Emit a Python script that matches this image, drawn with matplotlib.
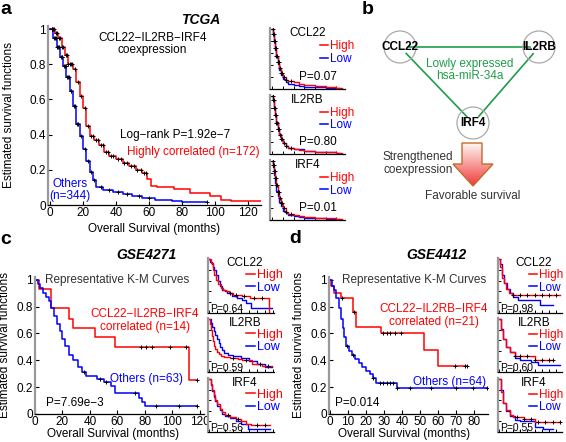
import numpy as np
import matplotlib
matplotlib.use('Agg')
import matplotlib.pyplot as plt
from matplotlib.patches import Circle, Polygon
from matplotlib.colors import LinearSegmentedColormap
from matplotlib.lines import Line2D

plt.rcParams['font.family'] = ['Liberation Sans', 'DejaVu Sans']

# ---- panel a (TCGA) ----
a_hi_t = [0, 3, 5, 7, 9, 11, 14, 16, 18, 20, 22, 24, 27, 30, 33, 36, 40, 44, 48, 52, 56, 59, 61, 65, 75, 85, 97, 104, 110]
a_hi_s = [1, .98, .95, .90, .85, .80, .77, .70, .62, .55, .45, .39, .37, .34, .30, .28, .26, .24, .22, .20, .18, .15, .11, .10, .09, .07, .05, .03, .02]
a_hi_end = 128
a_hi_cens = [1, 2, 2.5, 3.5, 4, 5.5, 6, 7.5, 8, 9.5, 10.5, 11, 12, 13, 13.5, 15, 17, 19, 21, 23, 25, 26, 28, 29,
             31, 32, 34, 35, 37, 38, 41, 43, 45, 47, 49, 51, 53, 55, 57, 58]
a_lo_t = [0, 2, 4, 6, 8, 10, 12, 14, 16, 18, 20, 22, 24, 26, 28, 32, 38, 44, 50, 56, 64, 74, 80]
a_lo_s = [1, .95, .90, .84, .79, .73, .65, .56, .46, .39, .32, .25, .19, .14, .10, .085, .075, .06, .05, .04, .03, .02, .015]
a_lo_end = 95
a_lo_cens = [1, 1.5, 2.5, 3, 3.5, 4.5, 5, 5.5, 6.5, 7, 7.5, 8.5, 9, 9.5, 10.5, 11, 11.5, 12.5, 13, 14.5, 15, 16.5,
             17, 19, 21, 23, 25, 27, 31, 36, 41, 47, 54, 60, 95]

genes = ['CCL22', 'IL2RB', 'IRF4']

sa_p = ['P=0.07', 'P=0.80', 'P=0.01']
sa_t = [0, 2, 4, 6, 8, 10, 13, 16, 20, 25, 30, 40, 50, 60, 80, 100, 120]
sa_hi = [[1, .92, .80, .68, .55, .45, .35, .27, .20, .15, .13, .11, .09, .07, .05, .03, .02],
         [1, .93, .80, .67, .54, .43, .33, .26, .19, .14, .11, .09, .07, .05, .04, .03, .02],
         [1, .94, .84, .72, .60, .48, .37, .29, .20, .14, .11, .09, .07, .05, .04, .03, .02]]
sa_lo = [[1, .92, .79, .66, .53, .42, .32, .24, .17, .12, .09, .07, .05, .04, .03, .015, .01],
         [1, .93, .81, .68, .55, .44, .34, .26, .19, .14, .11, .09, .08, .06, .04, .03, .02],
         [1, .90, .76, .63, .50, .40, .31, .23, .16, .12, .09, .07, .05, .04, .03, .02, .01]]
sa_cens = [1, 2, 3, 4, 5, 6, 7, 8, 9, 10, 11, 12, 14, 16, 18, 22, 26, 35]

# ---- panel c (GSE4271) ----
c_hi_t = [0, 3, 12, 25, 28, 44, 58, 112]
c_hi_s = [1, .93, .79, .71, .64, .57, .50, .25]
c_hi_end = 118
c_hi_cens = [77, 81, 85, 98, 110, 118]
c_lo_t = [0, 2, 4, 6, 8, 10, 12, 14, 16, 18, 20, 22, 25, 28, 31, 34, 37, 45, 50, 55, 58, 76, 78, 80]
c_lo_s = [1, .97, .94, .90, .87, .84, .79, .73, .67, .62, .56, .51, .44, .40, .35, .31, .28, .26, .24, .21, .16, .12, .09, .06]
c_lo_end = 118
c_lo_cens = [36, 47, 52, 73, 88, 105, 118]

sc_p = ['P=0.64', 'P=0.59', 'P=0.56']
sc_hi_t = [[0, 3, 7, 10, 13, 17, 22, 27, 31, 37, 45, 61, 76, 112],
           [0, 2, 4, 6, 8, 10, 12, 15, 18, 22, 28, 40, 55, 62, 80, 100],
           [0, 3, 6, 9, 12, 15, 20, 25, 30, 40, 50, 60, 70, 78]]
sc_hi_s = [[1, .92, .80, .70, .62, .54, .46, .42, .40, .37, .34, .31, .28, 0],
           [1, .90, .80, .68, .58, .50, .44, .38, .34, .31, .29, .27, .25, .22, .16, .12],
           [1, .90, .80, .70, .60, .52, .44, .37, .32, .28, .24, .20, .16, .13]]
sc_hi_end = [112, 118, 114]
sc_lo_t = [[0, 2, 5, 8, 10, 13, 16, 20, 25, 30, 34, 43, 52, 61, 70, 79],
           [0, 3, 6, 9, 12, 15, 18, 21, 24, 28, 35, 45, 60, 75, 90, 105],
           [0, 3, 6, 9, 12, 15, 20, 25, 30, 40, 50, 60, 74]]
sc_lo_s = [[1, .95, .90, .85, .80, .70, .59, .50, .43, .40, .37, .31, .28, .25, .18, .09],
           [1, .92, .85, .78, .70, .62, .55, .47, .41, .36, .32, .30, .26, .20, .15, .10],
           [1, .88, .77, .67, .58, .50, .41, .34, .30, .26, .20, .16, .06]]
sc_lo_end = [118, 118, 114]
sc_cens = [[40, 50, 66, 85, 100], [45, 70, 95, 110], [35, 55, 90, 105]]

# ---- panel d (GSE4412) ----
d_hi_t = [0, 0.5, 2, 6, 13, 14.5, 28.5, 52, 60]
d_hi_s = [1, .95, .90, .86, .76, .65, .60, .48, .36]
d_hi_end = 76
d_hi_cens = [6.5, 13.5, 29.5, 31.5, 33.5, 36, 39.5, 69, 74.5, 76]
d_lo_t = [0, 1, 2, 3.5, 5, 6, 7, 8, 9, 10.5, 12, 14, 16, 18, 20, 22, 24, 25.5, 37]
d_lo_s = [1, .95, .92, .86, .79, .71, .64, .57, .51, .47, .44, .41, .38, .35, .32, .30, .27, .23, .19]
d_lo_end = 87
d_lo_cens = [9.5, 13, 24, 27.5, 29.5, 31.5, 33, 35, 37, 44.5, 56, 70, 79, 87]

sd_p = ['P=0.98', 'P=0.60', 'P=0.55']
sd_hi_t = [[0, 2, 4, 7, 10, 14, 18],
           [0, 3, 6, 10, 15, 22, 50],
           [0, 3, 6, 10, 15, 20, 35, 50]]
sd_hi_s = [[1, .85, .65, .55, .45, .38, .33],
           [1, .80, .62, .48, .38, .30, .22],
           [1, .75, .55, .42, .32, .28, .25, .18]]
sd_hi_end = [85, 75, 85]
sd_lo_t = [[0, 2, 5, 8, 11, 15, 20, 27, 57],
           [0, 3, 6, 10, 15, 22, 30, 45, 55],
           [0, 3, 6, 10, 15, 22, 30, 50, 62]]
sd_lo_s = [[1, .90, .70, .55, .45, .38, .30, .25, .15],
           [1, .82, .62, .47, .37, .27, .22, .18, .13],
           [1, .80, .55, .40, .30, .22, .20, .10, .05]]
sd_lo_end = [75, 85, 75]
sd_cens = [[20, 30, 40, 50, 60, 70, 80], [22, 30, 40, 50, 60, 70, 75], [25, 35, 45, 55, 65, 75, 85]]

# ---- panel b ----
nodes = ['CCL22', 'IL2RB', 'IRF4']
edges = [('CCL22', 'IL2RB'), ('CCL22', 'IRF4'), ('IL2RB', 'IRF4')]

W, H = 566, 442
fig = plt.figure(figsize=(W / 100, H / 100), dpi=100)


def axes_px(l, t, r, b):
    return fig.add_axes([l / W, 1 - b / H, (r - l) / W, (b - t) / H])


def km(ax, t, s, end, color, cens=(), lw=1.1, ms=3.5):
    tt = list(t) + [end]
    ss = list(s) + [s[-1]]
    ax.step(tt, ss, where='post', color=color, lw=lw, zorder=2)
    if len(cens):
        idx = np.searchsorted(tt, cens, side='right') - 1
        ax.plot(cens, np.array(ss)[idx], '+', color='k', ms=ms, mew=0.7, zorder=3)


def style(ax, xlim, xticks, small=False):
    ax.set_xlim(*xlim)
    ax.set_ylim(0, 1.02)
    ax.set_xticks(xticks)
    ax.set_yticks(np.arange(0, 1.01, 0.2))
    for sp in ['top', 'right']:
        ax.spines[sp].set_visible(False)
    ax.spines['left'].set_color('#999999')
    ax.spines['left'].set_linewidth(1.6)
    ax.spines['bottom'].set_linewidth(0.9)
    if small:
        ax.tick_params(direction='in', length=2, width=0.7, labelbottom=False, labelleft=False)
    else:
        ax.set_xticklabels([str(v) for v in xticks])
        ax.set_yticklabels(['0', '0.2', '0.4', '0.6', '0.8', '1'])
        ax.tick_params(direction='in', length=3, width=0.8, labelsize=8.5, pad=1.5)
        ax.set_xlabel('Overall Survival (months)', fontsize=8.5)
        ax.set_ylabel('Estimated survival functions', fontsize=8.5)


def small_legend(ax, x, y, fs):
    hs = [Line2D([], [], color='red', lw=1.1), Line2D([], [], color='blue', lw=1.1)]
    ax.legend(hs, ['High', 'Low'], loc='upper left', bbox_to_anchor=(x, y), frameon=False,
              fontsize=fs, handlelength=0.7, handletextpad=0.15, labelspacing=0.05,
              borderpad=0, borderaxespad=0, labelcolor=['red', 'blue'])


# panel a main
ax = axes_px(48, 25.5, 261, 205)
km(ax, a_hi_t, a_hi_s, a_hi_end, 'red', a_hi_cens)
km(ax, a_lo_t, a_lo_s, a_lo_end, 'blue', a_lo_cens)
style(ax, (-1.2, 128), list(range(0, 121, 20)))
ax.yaxis.set_label_coords(-0.155, 0.5)
ax.xaxis.set_label_coords(0.5, -0.10)
ax.text(62, 0.915, 'CCL22−IL2RB−IRF4\ncoexpression', ha='center', va='center', fontsize=8.5, linespacing=1.1)
ax.text(76, 0.40, 'Log−rank P=1.92e−7', ha='center', va='center', fontsize=8.5)
ax.text(87, 0.30, 'Highly correlated (n=172)', ha='center', va='center', fontsize=8.5, color='red')
ax.text(12, 0.085, 'Others\n(n=344)', ha='center', va='center', fontsize=8.5, color='blue', linespacing=1.1)

rows_a = [(28, 89), (95, 154), (160, 220)]
for i, (top, bot) in enumerate(rows_a):
    sx = axes_px(270, top, 345, bot)
    km(sx, sa_t, sa_lo[i], 125, 'blue', lw=1.0)
    km(sx, sa_t, sa_hi[i], 130, 'red', sa_cens, lw=1.0, ms=3)
    style(sx, (-4, 136), list(range(0, 121, 20)), small=True)
    sx.text(0.5, 0.92, genes[i], transform=sx.transAxes, ha='center', va='center', fontsize=8.5)
    sx.text(0.64, 0.2, sa_p[i], transform=sx.transAxes, ha='center', va='center', fontsize=8.5)
    small_legend(sx, 0.66, 0.8, 8.5)

# panel c main
ax = axes_px(35, 277, 204, 414)
km(ax, c_hi_t, c_hi_s, c_hi_end, 'red', c_hi_cens)
km(ax, c_lo_t, c_lo_s, c_lo_end, 'blue', c_lo_cens)
style(ax, (0, 123), list(range(0, 121, 20)))
ax.yaxis.set_label_coords(-0.14, 0.5)
ax.xaxis.set_label_coords(0.46, -0.10)
ax.text(7, 1.0, 'Representative K-M Curves', ha='left', va='center', fontsize=8.5, color='#333333')
ax.text(80, 0.695, 'CCL22−IL2RB−IRF4\ncorrelated (n=14)', ha='center', va='center', fontsize=8.5,
        color='red', linespacing=1.1)
ax.text(81.5, 0.26, 'Others (n=63)', ha='center', va='center', fontsize=8.5, color='blue')
ax.text(29, 0.08, 'P=7.69e−3', ha='center', va='center', fontsize=8.5)

rows_cd = [(258, 313), (318, 372), (378, 432)]
for i, (top, bot) in enumerate(rows_cd):
    sx = axes_px(208, top, 274, bot)
    km(sx, sc_lo_t[i], sc_lo_s[i], sc_lo_end[i], 'blue', lw=1.0)
    km(sx, sc_hi_t[i], sc_hi_s[i], sc_hi_end[i], 'red', sc_cens[i], lw=1.0, ms=3)
    style(sx, (-2, 122), list(range(0, 121, 15)), small=True)
    sx.text(0.56, 0.9, genes[i], transform=sx.transAxes, ha='center', va='center', fontsize=8.5)
    sx.text(0.03, 0.08, sc_p[i], transform=sx.transAxes, ha='left', va='center', fontsize=7.5)
    small_legend(sx, 0.58, 0.8, 9)

# panel d main
ax = axes_px(329, 277, 488, 414)
km(ax, d_hi_t, d_hi_s, d_hi_end, 'red', d_hi_cens)
km(ax, d_lo_t, d_lo_s, d_lo_end, 'blue', d_lo_cens)
style(ax, (-0.5, 87.5), list(range(0, 81, 10)))
ax.yaxis.set_label_coords(-0.15, 0.5)
ax.xaxis.set_label_coords(0.47, -0.10)
ax.text(6.6, 1.0, 'Representative K-M Curves', ha='left', va='center', fontsize=8.5, color='#333333')
ax.text(57.5, 0.735, 'CCL22−IL2RB−IRF4\ncorrelated (n=21)', ha='center', va='center', fontsize=8.5,
        color='red', linespacing=1.1)
ax.text(66, 0.24, 'Others (n=64)', ha='center', va='center', fontsize=8.5, color='blue')
ax.text(15, 0.08, 'P=0.014', ha='center', va='center', fontsize=8.5)

for i, (top, bot) in enumerate(rows_cd):
    sx = axes_px(498, top, 562, bot)
    km(sx, sd_lo_t[i], sd_lo_s[i], sd_lo_end[i], 'blue', lw=1.0)
    km(sx, sd_hi_t[i], sd_hi_s[i], sd_hi_end[i], 'red', sd_cens[i], lw=1.0, ms=3)
    style(sx, (-1, 88), list(range(0, 81, 10)), small=True)
    sx.text(0.56, 0.9, genes[i], transform=sx.transAxes, ha='center', va='center', fontsize=8.5)
    sx.text(0.03, 0.08, sd_p[i], transform=sx.transAxes, ha='left', va='center', fontsize=7.5)
    small_legend(sx, 0.48, 0.8, 8.5)

# panel b: network + arrow, drawn in pixel units
axb = axes_px(355, 0, 566, 220)
pos = {'CCL22': (400, 47), 'IL2RB': (539, 47), 'IRF4': (473, 123)}
for a, b in edges:
    p0, p1 = np.array(pos[a], float), np.array(pos[b], float)
    d = (p1 - p0) / np.hypot(*(p1 - p0))
    q0, q1 = p0 + d * 9, p1 - d * 9
    axb.plot([q0[0], q1[0]], [q0[1], q1[1]], color='#1e9e4a', lw=1.2, zorder=1)
for n in nodes:
    axb.add_patch(Circle(pos[n], 16, facecolor='none', edgecolor='#aaaaaa', lw=0.9, zorder=2))
    axb.text(*pos[n], n, ha='center', va='center', fontsize=8.5, fontweight='bold', zorder=3)
axb.text(470, 70, 'Lowly expressed\nhsa-miR-34a', ha='center', va='center', fontsize=8.5,
         color='#1e9e4a', linespacing=1.1)
arrow = Polygon([(462, 143), (482, 143), (482, 164), (493, 164), (473, 186), (453, 164), (462, 164)],
                closed=True, facecolor='none', edgecolor='#c46a2a', lw=1, zorder=3)
axb.add_patch(arrow)
cmap = LinearSegmentedColormap.from_list('arr', ['#fff6f2', '#ef3c3c'])
im = axb.imshow(np.linspace(0, 1, 100).reshape(-1, 1), cmap=cmap, extent=(453, 493, 186, 143),
                origin='upper', aspect='auto', zorder=2)
im.set_clip_path(arrow)
axb.text(418, 163.5, 'Strengthened\ncoexpression', ha='center', va='center', fontsize=8.5,
         color='#333333', linespacing=1.1)
axb.text(473, 196, 'Favorable survival', ha='center', va='center', fontsize=8.5, color='#333333')
axb.set_xlim(355, 566)
axb.set_ylim(220, 0)
axb.axis('off')

# panel letters and titles
def ftext(x, y, s, **kw):
    fig.text(x / W, 1 - y / H, s, ha='center', va='center', **kw)

ftext(6, 9, 'a', fontsize=14, fontweight='bold')
ftext(368, 9, 'b', fontsize=14, fontweight='bold')
ftext(6, 240, 'c', fontsize=14, fontweight='bold')
ftext(295, 239, 'd', fontsize=14, fontweight='bold')
ftext(201, 20, 'TCGA', fontsize=10, fontweight='bold', style='italic')
ftext(146, 255, 'GSE4271', fontsize=10, fontweight='bold', style='italic')
ftext(436, 255, 'GSE4412', fontsize=10, fontweight='bold', style='italic')

fig.savefig('out.png', dpi=100)
